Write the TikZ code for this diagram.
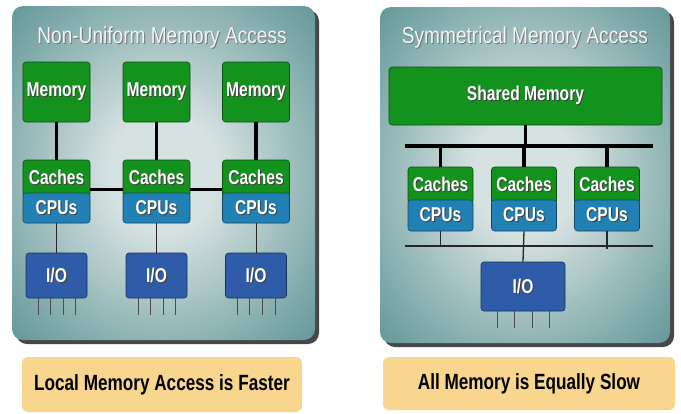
\documentclass[tikz,border=0pt]{standalone}
\usepackage{fontspec}
\setmainfont[FakeStretch=0.83]{Liberation Sans}
\newfontfamily\narrowfont[FakeStretch=0.78]{Liberation Sans}
\usetikzlibrary{positioning}

\definecolor{paneldark}{HTML}{3D7779}
\definecolor{paneledge}{HTML}{4E898B}
\definecolor{panelmid}{HTML}{86AEAE}
\definecolor{panellight}{HTML}{D6E1E1}
\definecolor{memgreen}{HTML}{13921E}
\definecolor{cpublue}{HTML}{2181B4}
\definecolor{ioblue}{HTML}{2E5CA8}
\definecolor{captionfill}{HTML}{F9D68E}
\definecolor{titlewhite}{HTML}{F2F6F6}

% soft vignette for the two panels (outermost radius 50bp = panel edge)
\pgfdeclareradialshading{panelshade}{\pgfpoint{0bp}{0bp}}{%
  color(0bp)=(panellight); color(9bp)=(panellight);
  color(27bp)=(panelmid); color(41bp)=(paneledge); color(50bp)=(paneldark)}

% white label with a dark drop shadow behind it
\newcommand\shadowtext[2][black!75]{%
  \makebox[0pt][l]{\kern1pt\raisebox{-1pt}{\textcolor{#1}{#2}}}#2}

\tikzset{
  panel/.style={rounded corners=11pt, shading=panelshade},
  panelshadow/.style={fill=black!72, rounded corners=11pt},
  paneltitle/.style={anchor=base, text=titlewhite,
    font=\fontsize{23}{23}\selectfont},
  box/.style={rounded corners=3pt, text=white, inner sep=0pt,
    font=\narrowfont\bfseries\fontsize{20}{20}\selectfont},
  membox/.style={box, fill=memgreen, draw=memgreen!55!black, line width=0.6pt},
  cachebox/.style={box, fill=memgreen, draw=memgreen!55!black, line width=0.6pt},
  cpubox/.style={box, fill=cpublue, draw=cpublue!55!black, line width=0.6pt},
  iobox/.style={box, fill=ioblue, draw=ioblue!55!black, line width=0.6pt},
  caption/.style={fill=captionfill, rounded corners=6pt, text=black,
    font=\narrowfont\bfseries\fontsize{22}{22}\selectfont},
  thickbus/.style={line width=3.5pt, black},
  thinbus/.style={line width=1.3pt, black!85},
  pin/.style={line width=0.8pt, black!70},
}

\begin{document}
\begin{tikzpicture}[x=1pt, y=-1pt]
\useasboundingbox (0,0) rectangle (681,413);

% ---------- panels ----------
\fill[panelshadow] (16,10) rectangle (319,344);
\shade[panel] (12,6) rectangle (315,340);
\fill[panelshadow] (384,11) rectangle (674,347);
\shade[panel] (380,7) rectangle (670,343);

\node[paneltitle] (ltitle) at (162,43) {\shadowtext[black!55]{Non-Uniform Memory Access}};
\node[paneltitle] (rtitle) at (525,43) {\shadowtext[black!55]{Symmetrical Memory Access}};

% ---------- NUMA: three nodes with local memory ----------
\foreach \i/\cx in {1/56.5, 2/156.5, 3/256} {
  \node[membox, minimum width=67pt, minimum height=60pt] (mem\i) at (\cx,92) {\shadowtext{Memory}};
  \node[cachebox, minimum width=67pt, minimum height=37pt] (cache\i) at (\cx,178.5)
    {\raisebox{2pt}{\shadowtext{Caches}}};
  \node[cpubox, minimum width=67pt, minimum height=30pt] (cpu\i) at (\cx,208) {\shadowtext{CPUs}};
  \node[iobox, minimum width=61pt, minimum height=45pt] (io\i) at (\cx,275.5) {\shadowtext{I/O}};
  \draw[line width=3.2pt] (mem\i.south) -- (cache\i.north);
  \draw[line width=1pt, black!85] (cpu\i.south) -- (io\i.north);
  \foreach \dx in {-18.5,-6.5,6.5,19} {
    \draw[pin] ([xshift=\dx pt]io\i.south) -- ++(0,17);
  }
}
\draw[line width=3pt] ([yshift=-10.5pt]cache1.east) -- ([yshift=-10.5pt]cache2.west);
\draw[line width=3pt] ([yshift=-10.5pt]cache2.east) -- ([yshift=-10.5pt]cache3.west);

% ---------- SMP: one shared memory on a common bus ----------
\node[membox, minimum width=273pt, minimum height=58pt] (shmem) at (525.5,96) {\shadowtext{Shared Memory}};
\coordinate (busL) at (405,146);
\coordinate (busR) at (653,146);
\coordinate (lbusL) at (405,246);
\coordinate (lbusR) at (653,246);
\draw[thickbus] (busL) -- (busR);
\draw[line width=3.2pt] (shmem.south) -- (shmem.south |- busL);

\foreach \i/\cx in {1/440.5, 2/524, 3/607} {
  \node[cachebox, minimum width=65pt, minimum height=37pt] (rcache\i) at (\cx,185.5)
    {\raisebox{2pt}{\shadowtext{Caches}}};
  \node[cpubox, minimum width=65pt, minimum height=31pt] (rcpu\i) at (\cx,215.5) {\shadowtext{CPUs}};
  \draw[line width=3.2pt] (rcache\i.north |- busL) -- (rcache\i.north);
}
\draw[thinbus] (lbusL) -- (lbusR);
\node[iobox, minimum width=84pt, minimum height=49pt] (rio) at (523,286.5) {\shadowtext{I/O}};
\draw[thinbus] (rcpu1.south) -- (rcpu1.south |- lbusL);
\draw[thinbus] (rcpu2.south) -- (rio.north);
\draw[thinbus] (rcpu3.south) -- ([yshift=-3pt]rcpu3.south |- lbusL);
\foreach \dx in {-26,-9,9,26} {
  \draw[pin] ([xshift=\dx pt]rio.south) -- ++(0,17);
}

% ---------- captions ----------
\node[caption, minimum width=280pt, minimum height=55pt] (lcap) at (162,384.5) {Local Memory Access is Faster};
\node[caption, minimum width=292pt, minimum height=53pt] (rcap) at (529,383.5) {All Memory is Equally Slow};
\end{tikzpicture}
\end{document}
